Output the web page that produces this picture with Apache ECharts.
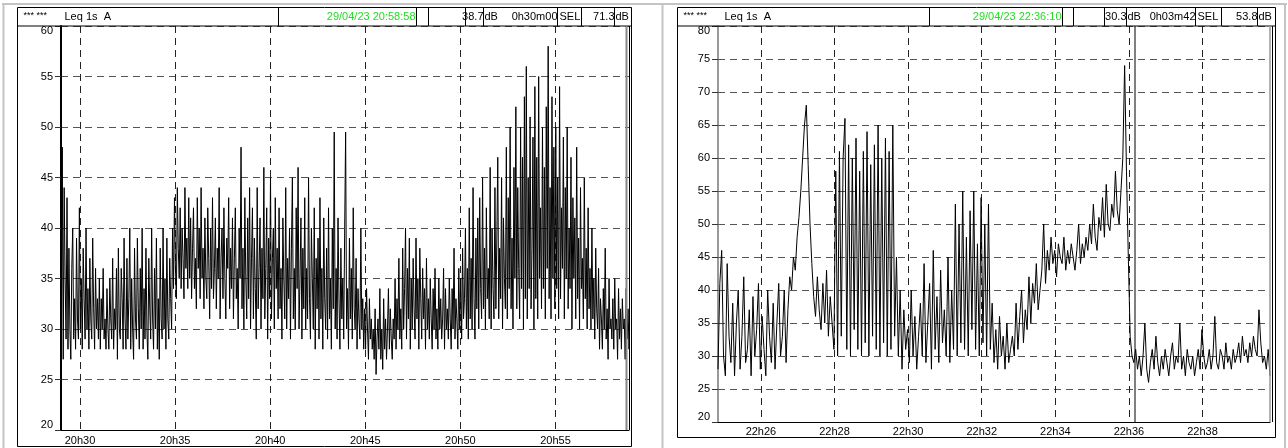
<!DOCTYPE html>
<html><head><meta charset="utf-8">
<script src="https://cdn.jsdelivr.net/npm/echarts@6/dist/echarts.min.js"></script>
<style>html,body{margin:0;padding:0;background:#fff}#c{width:1288px;height:448px}</style>
</head><body><div id="c"></div>
<script>
// ---------- LEFT PANEL DATA (Leq 1s A, read every 3 s) ----------
const leftStart = '20:28:58';
const leftStepSec = 3;
const leftValues = [
 30,26,48,27,44,35,29,43,28,38,
 30,27,36,40,29,33,28,39,31,29,
 42,30,35,28,38,33,29,40,30,34,
 28,37,31,29,39,32,28,36,30,33,
 29,35,28,33,30,36,29,31,28,34,
 30,28,35,31,29,37,28,32,30,36,
 27,38,30,29,36,33,28,39,31,28,
 37,29,33,40,28,35,30,27,38,31,
 29,39,32,28,36,30,40,28,34,29,
 38,30,27,37,32,29,40,31,28,36,
 30,39,28,33,27,38,31,29,40,30,
 35,28,39,31,29,37,33,30,40,34,
 43,36,33,44,38,35,42,34,40,37,
 33,44,36,39,34,43,35,41,33,38,
 42,34,37,32,43,36,40,33,44,35,
 38,32,41,35,33,42,37,31,40,34,
 43,33,36,41,32,38,35,44,31,37,
 40,33,42,35,31,39,36,43,32,38,
 34,41,31,37,42,33,36,30,40,35,
 48,32,38,30,43,35,31,41,33,44,
 30,37,42,31,39,34,29,44,32,36,
 41,30,38,33,46,31,36,42,29,39,
 33,45,31,37,40,30,43,34,38,31,
 42,32,36,29,41,35,31,44,30,37,
 33,40,29,38,45,31,36,30,42,34,
 46,30,35,41,29,38,32,43,30,36,
 31,45,33,29,40,35,30,42,28,37,
 32,39,29,43,31,36,28,41,33,30,
 38,29,42,31,35,28,40,32,49.5,30,
 36,29,41,33,28,38,31,35,29,40,
 49.5,30,34,28,39,31,36,29,42,32,
 30,37,28,34,31,29,40,30,33,28,
 32,28,34,30,27,33,29,31,28,30,
 27,32,25.5,29,31,28,34,27,30,26,
 33,28,31,27,30,34,28,32,29,27,
 31,29,35,28,33,30,37,29,32,28,
 38,30,34,40,29,36,31,39,28,35,
 30,37,32,29,39,31,35,28,38,33,
 29,36,31,34,28,37,30,33,29,35,
 31,28,34,30,36,29,32,28,35,30,
 33,29,31,36,28,34,30,32,29,35,
 31,28,34,30,38,29,33,31,28,36,
 30,35,29,38,31,33,40,30,36,29,
 42,31,37,30,44,33,29,39,32,41,
 30,43,34,31,45,32,38,30,42,33,
 36,31,46,30,40,34,31,44,32,39,
 47,31,38,33,45,30,41,35,32,48,
 31,43,34,50,32,39,30,46,35,52,
 32,44,36,31,50,34,47,30,53,33,
 56,31,45,34,51,32,38,49,30,54,
 33,47,31,55,35,42,32,50,34,46,
 31,52,36,58,33,44,31,53,35,48,
 32,50,34,45,31,54,33,42,36,49,
 31,44,35,50,32,40,34,47,30,43,
 35,41,31,48,33,39,30,44,34,37,
 31,45,33,38,30,42,32,36,30,40,
 31,35,29,38,32,30,36,28,33,31,
 28,34,30,38,29,32,27,35,30,31,
 29,33,28,35,30,31,27,34,29,32,
 28,33,30,31,27,34,29,32,28,31,
 30
];
const leftXMin = '20:29:00';
const leftXMax = '20:58:52';
const leftTicks = ['20h30','20h35','20h40','20h45','20h50','20h55'];
const leftYMin = 20, leftYMax = 60, leftYStep = 5;
const leftHeader = ['*** ***','Leq 1s  A','29/04/23 20:58:58','38.7','dB','0h30m00','SEL','71.3','dB'];

// ---------- RIGHT PANEL DATA (Leq 1s A, read every 3 s) ----------
const rightStart = '22:24:50';
const rightStepSec = 3;
const rightValues = [
 28,41,46,30,27,44,33,29,38,27,
 35,40,28,33,42,29,31,37,27,39,
 30,34,41,28,36,31,27,40,33,29,
 38,28,35,41,30,33,40,29,37,42,
 40,45,43,48,51,55,60,65,68,59,
 50,44,39,36,42,37,34,41,35,43,
 33,39,35,31,58,30,61,33,60,66,
 31,62,30,60,34,63,31,58,30,61,
 32,64,30,59,33,62,31,65,30,60,
 32,63,30,61,31,65,33,45,30,40,
 28,37,31,34,29,40,30,36,28,33,
 38,30,44,29,35,41,28,46,31,39,
 29,43,32,37,30,45,29,40,31,53,
 30,50,32,55,31,48,30,52,34,55,
 31,47,30,54,32,50,30,53,31,38,
 29,34,28,36,30,33,28,35,29,31,
 33,30,38,31,36,40,32,37,34,42,
 35,41,38,44,37,40,43,50,41,46,
 43,48,44,46,42,47,45,44,48,43,
 46,44,47,45,43,46,50,44,47,45,
 48,46,50,47,53,48,46,51,49,54,
 48,56,50,49,53,51,58,52,50,55,
 60,74,58,45,33,30,29,31,28,30,
 27,30,35,28,26,29,31,28,33,29,
 27,30,28,31,29,27,30,32,28,30,
 29,35,28,30,27,31,29,28,30,27,
 29,31,28,34,30,28,29,31,28,30,
 36,29,28,31,30,28,32,29,30,28,
 31,29,30,32,29,33,30,31,29,32,
 30,33,31,30,37,32,29,30,28,31,
 27
];
const rightXMin = '22:24:50';
const rightXMax = '22:39:50';
const rightTicks = ['22h26','22h28','22h30','22h32','22h34','22h36','22h38'];
const rightCursor = '22:36:10';
const rightYMin = 20, rightYMax = 80, rightYStep = 5;
const rightHeader = ['*** ***','Leq 1s  A','29/04/23 22:36:10','30.3','dB','0h03m42','SEL','53.8','dB'];

// ---------- helpers ----------
function hms(s){const p=s.split(':').map(Number);return p[0]*3600+p[1]*60+(p[2]||0);}
function hm(s){const p=s.split('h').map(Number);return p[0]*3600+p[1]*60;}
function fmt(v){const h=Math.floor(v/3600),m=Math.round((v%3600)/60);return h+'h'+String(m).padStart(2,'0');}
const FONT='"Liberation Sans", Arial, sans-serif';

const leftData = leftValues.map((v,i)=>[hms(leftStart)+i*leftStepSec, v]);
const rightData = rightValues.map((v,i)=>[hms(rightStart)+i*rightStepSec, v]);

function xAxisCfg(gi, min, max, ticks, margin){
  const tv = ticks.map(hm);
  return {type:'value', gridIndex:gi, min:hms(min), max:hms(max),
    axisLine:{show:true,onZero:false,lineStyle:{color:'#000',width:1}},
    axisTick:{show:false,customValues:tv},
    axisLabel:{customValues:tv,formatter:fmt,margin:margin,color:'#000',fontSize:11,fontFamily:FONT},
    splitLine:{show:true,lineStyle:{type:[7,5],color:'#222',width:1}}};
}
function yAxisCfg(gi, min, max, step, axisColor, axisW){
  return {type:'value', gridIndex:gi, min:min, max:max, interval:step,
    axisLine:{show:true,onZero:false,lineStyle:{color:axisColor,width:axisW}},
    axisTick:{show:true,length:6,lineStyle:{color:'#333'}},
    axisLabel:{margin:8,color:'#000',fontSize:11,fontFamily:FONT,
      formatter:v=> v===max?'{t|'+v+'}':(v===min?'{b|'+v+'}':'{n|'+v+'}'),
      rich:{t:{fontSize:11,fontFamily:FONT,color:'#000',padding:[10,0,0,0]},
            b:{fontSize:11,fontFamily:FONT,color:'#000',padding:[0,0,10,0]},
            n:{fontSize:11,fontFamily:FONT,color:'#000'}}},
    splitLine:{show:true,lineStyle:{type:[7,5],color:'#555',width:1}}};
}

// ---------- decorations (frames / header cells) ----------
const G=[];
function L(x1,y1,x2,y2,c,w){G.push({type:'line',silent:true,z:100,shape:{x1,y1,x2,y2},style:{stroke:c,lineWidth:w||1}});}
function T(x,y,t,align,c,size){G.push({type:'text',silent:true,z:101,x:x,y:y,style:{text:t,align:align||'left',verticalAlign:'middle',fill:c||'#000',font:(size||11)+'px '+FONT}});}

// page grey frame
L(2,4,1287,4,'#c4c4c4',2);
L(3.5,4,3.5,448,'#c4c4c4',2);
L(662.5,4,662.5,448,'#c4c4c4',2);
L(1285,4,1285,448,'#c4c4c4',2);

function panel(x0,x1,yb,cells,h){
  const yt=7.5, yh=26;
  L(x0,yt,x1,yt,'#000',1); L(x0,yh,x1,yh,'#000',1);
  L(x0,yt,x0,yb,'#000',1); L(x1,yt,x1,yb,'#000',1); L(x0,yb,x1,yb,'#000',1);
  cells.forEach(cx=>L(cx,yt,cx,yh,'#000',1));
  const ym=17;
  T(x0+6,ym-1,h[0],'left','#000',9);
  T(x0+47,ym,h[1],'left','#000',11);
  T(cells[1]-1,ym,h[2],'right','#22dd22',11);
  T(cells[4],ym,h[3],'right','#000',11);
  T(cells[4]+1,ym,h[4],'left','#000',11);
  T(cells[5],ym,h[5],'right','#000',11);
  T(cells[5]+2,ym,h[6],'left','#000',11);
  T(cells[7],ym,h[7],'right','#000',11);
  T(cells[7]+1,ym,h[8],'left','#000',11);
}
panel(17.5,631.5,446.5,[278.5,416.5,428.5,465.5,483.5,557.5,581.5,614.5],leftHeader);
panel(677.5,1275.5,437.5,[929.5,1062.5,1073.5,1104.5,1126.5,1195.5,1221.5,1257.5],rightHeader);
// right edges of plot areas
L(626.5,26,626.5,430,'#888',2); L(629.5,26,629.5,430,'#000',1);
L(1270,26,1270,422,'#999',1.5); L(1272.5,26,1272.5,422,'#000',1);

const chart = echarts.init(document.getElementById('c'),null,{renderer:'canvas'});
chart.setOption({
  animation:false,
  backgroundColor:'#fff',
  grid:[
    {left:61,top:26,width:568,height:404},
    {left:718,top:26,width:552,height:396}
  ],
  xAxis:[ xAxisCfg(0,leftXMin,leftXMax,leftTicks,5), xAxisCfg(1,rightXMin,rightXMax,rightTicks,4) ],
  yAxis:[ yAxisCfg(0,leftYMin,leftYMax,leftYStep,'#000',2), yAxisCfg(1,rightYMin,rightYMax,rightYStep,'#777',1.5) ],
  series:[
    {type:'line',xAxisIndex:0,yAxisIndex:0,data:leftData,showSymbol:false,clip:true,
     lineStyle:{color:'#000',width:1},z:5},
    {type:'line',xAxisIndex:1,yAxisIndex:1,data:rightData,showSymbol:false,clip:true,
     lineStyle:{color:'#000',width:1},z:5,
     markLine:{symbol:'none',silent:true,label:{show:false},
       lineStyle:{color:'#555',width:1.5,type:'solid'},
       data:[{xAxis:hms(rightCursor)}]}}
  ],
  graphic:G
});
</script></body></html>
